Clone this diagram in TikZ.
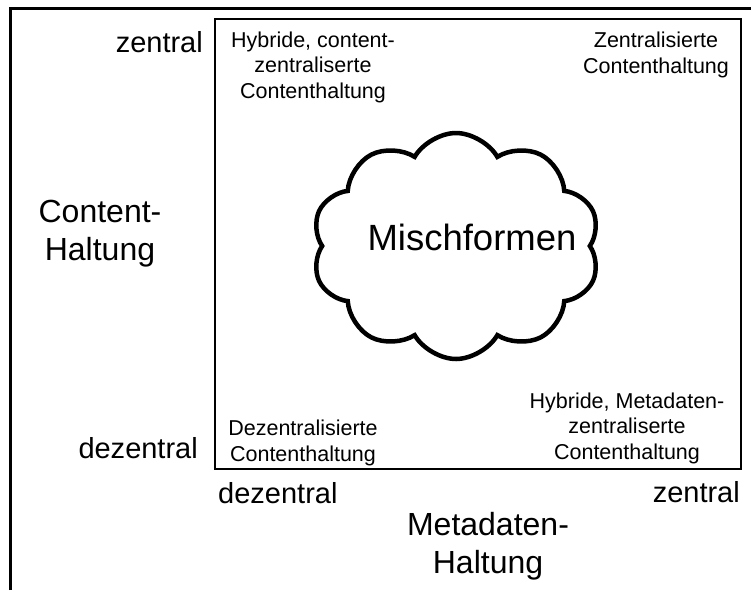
\documentclass[tikz,border=0pt]{standalone}
\usepackage{fontspec}
\setmainfont{Liberation Sans}
\usetikzlibrary{shapes.symbols}

\tikzset{
  achse/.style={font=\fontsize{29}{34}\selectfont, inner sep=0pt},
  titel/.style={font=\fontsize{32}{37.5}\selectfont, align=center, inner sep=0pt},
  feld/.style={font=\fontsize{21.5}{25.5}\selectfont, align=center, inner sep=0pt},
}

\begin{document}
\begin{tikzpicture}[x=1pt,y=-1pt]
\useasboundingbox (0,0) rectangle (751,590);
\draw[line width=3pt] (10,590) -- (10,8) -- (751,8);
\draw[line width=1.3pt] (215,19) rectangle (741,469);

\node[cloud, draw, line width=4.5pt, cloud puffs=10, cloud puff arc=120, cloud ignores aspect,
  minimum width=288pt, minimum height=226pt] (wolke) at (456,246) {};
\node[font=\fontsize{36.5}{42}\selectfont, inner sep=0pt, anchor=base] (misch) at (472,250) {Mischformen};

\node[feld, anchor=base] (hybc) at (313,98) {Hybride, content-\\zentraliserte\\Contenthaltung};
\node[feld, anchor=base] (zent) at (656,73) {Zentralisierte\\Contenthaltung};
\node[feld, anchor=base] (dez) at (303,461) {Dezentralisierte\\Contenthaltung};
\node[feld, anchor=base] (hybm) at (627,459) {Hybride, Metadaten-\\zentraliserte\\Contenthaltung};

\node[achse, anchor=base east] (cz) at (203,52) {zentral};
\node[achse, anchor=base east] (cd) at (198,458) {dezentral};
\node[achse, anchor=base west] (md) at (218,503) {dezentral};
\node[achse, anchor=base east] (mz) at (740,502) {zentral};
\node[titel, anchor=base] (content) at (100,260) {Content-\\Haltung};
\node[titel, anchor=base] (meta) at (488,573) {Metadaten-\\Haltung};
\end{tikzpicture}
\end{document}
